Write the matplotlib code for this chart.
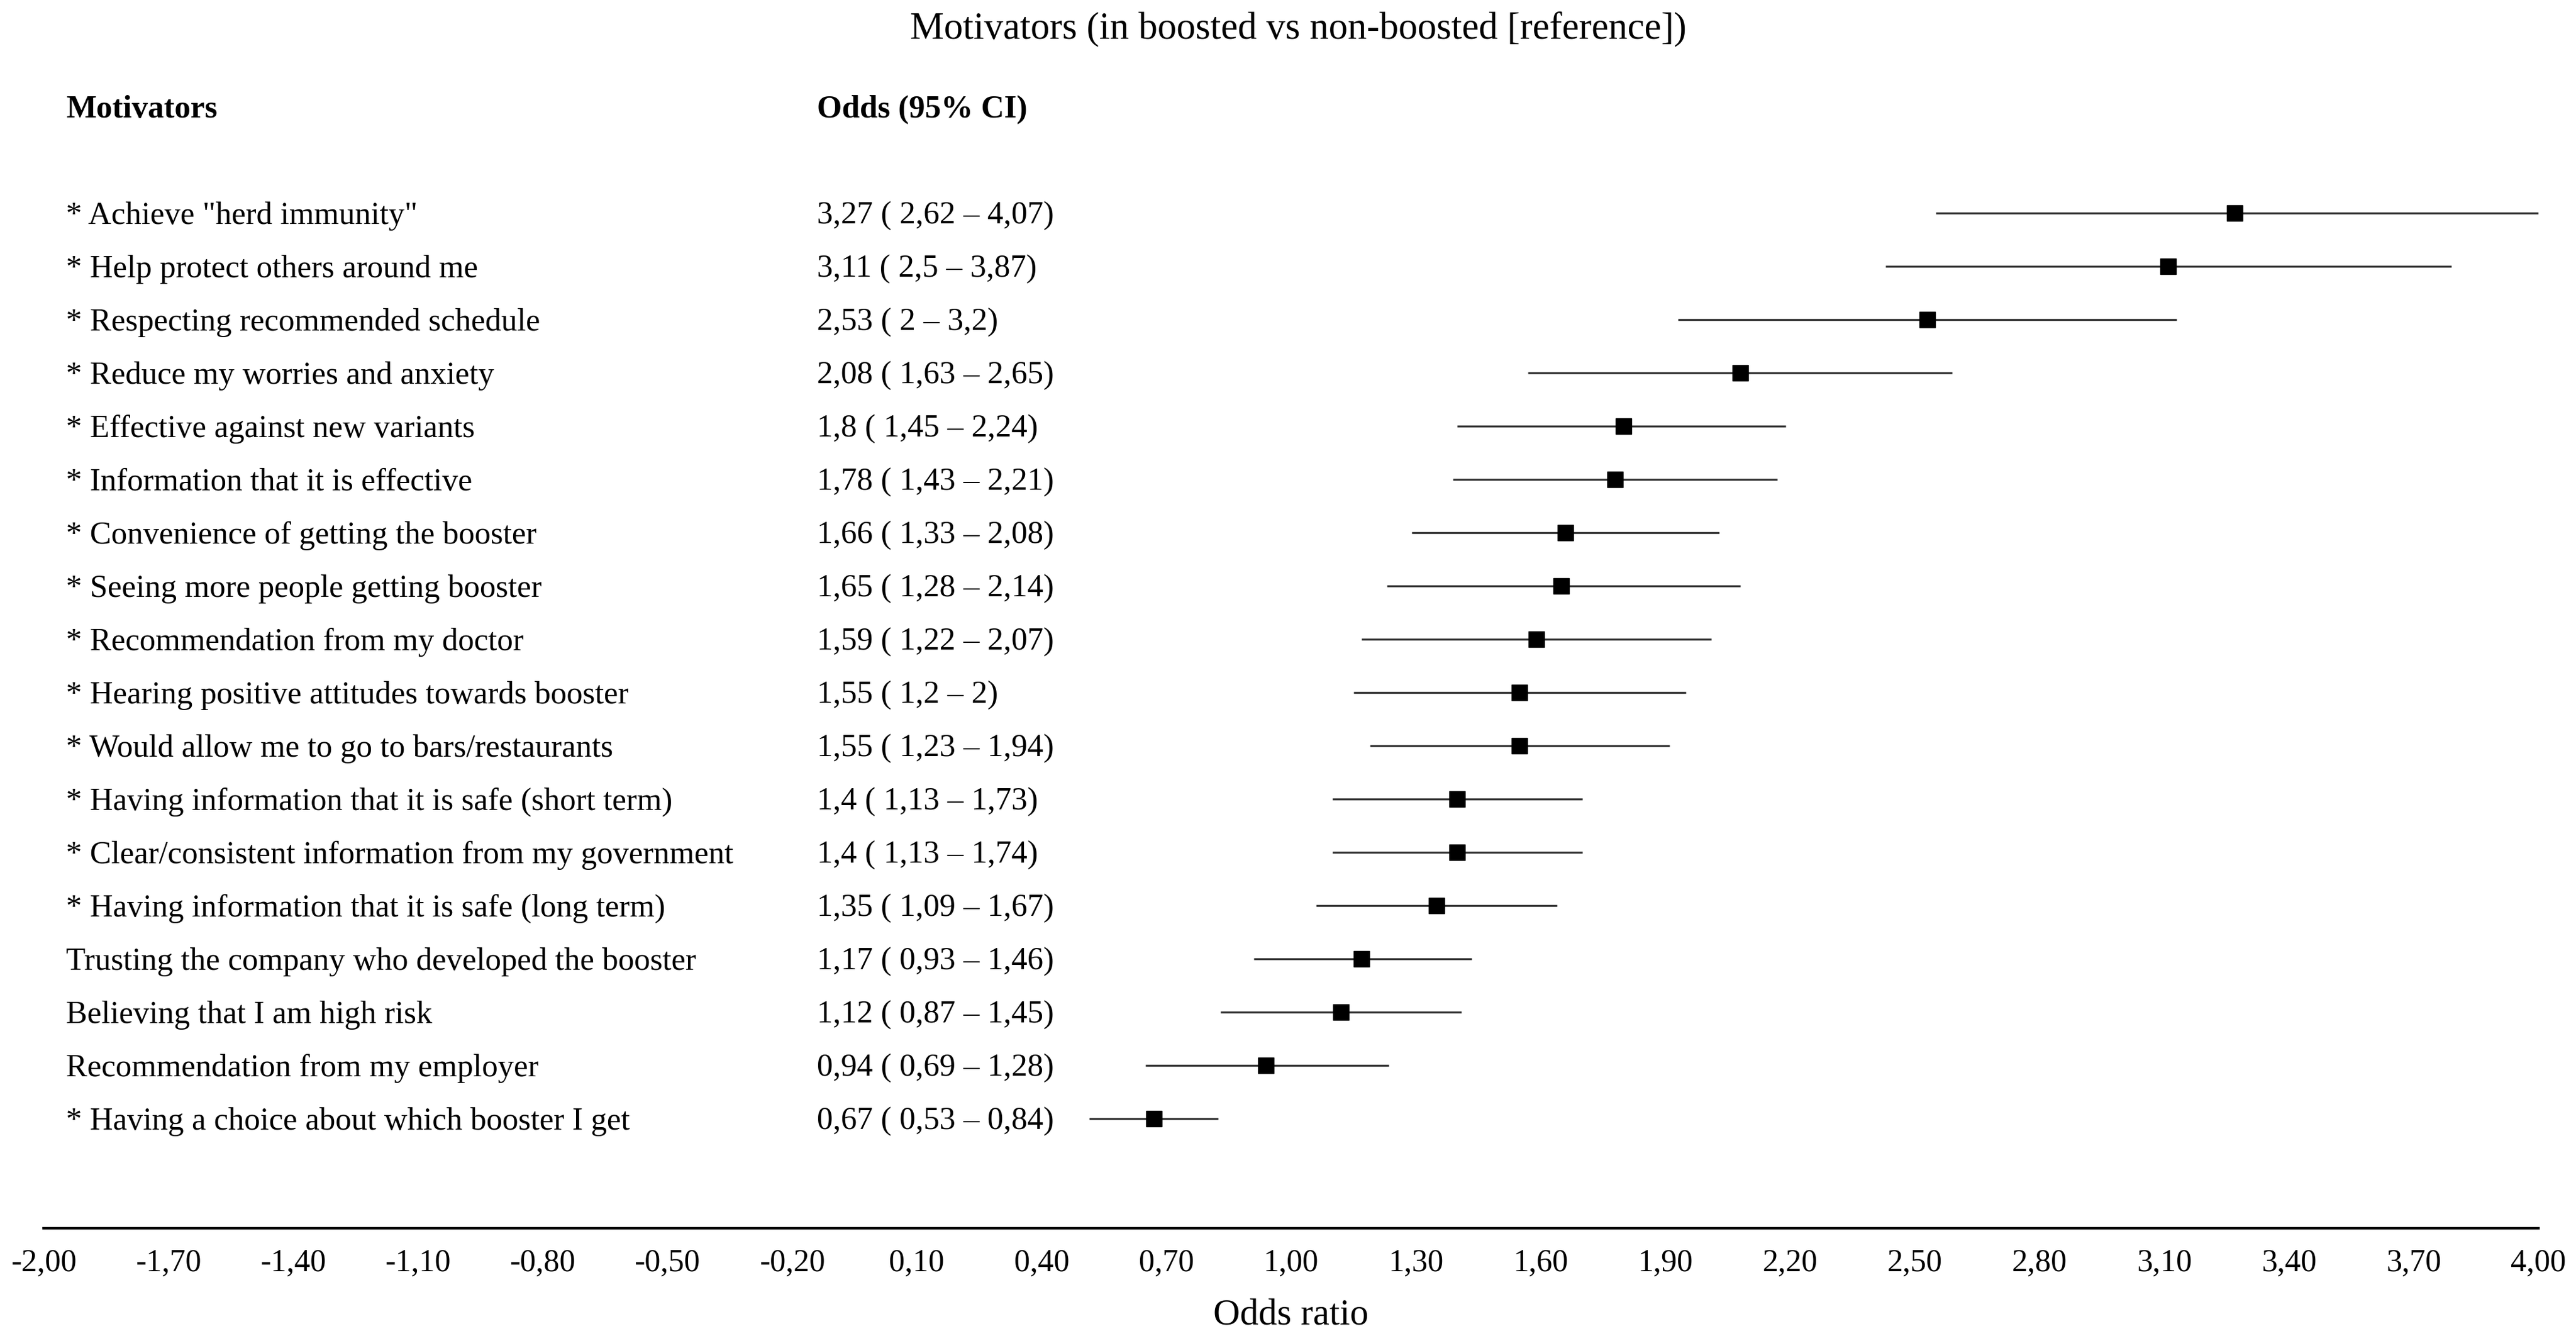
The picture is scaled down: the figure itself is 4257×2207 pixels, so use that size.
import numpy as np
import matplotlib.pyplot as plt
import matplotlib.transforms as mtransforms

# Forest plot: motivators, boosted vs non-boosted (reference)

plt.rcParams['font.family'] = ['Liberation Serif', 'DejaVu Serif']

labels = [
    '* Achieve "herd immunity"',
    '* Help protect others around me',
    '* Respecting recommended schedule',
    '* Reduce my worries and anxiety',
    '* Effective against new variants',
    '* Information that it is effective',
    '* Convenience of getting the booster',
    '* Seeing more people getting booster',
    '* Recommendation from my doctor',
    '* Hearing positive attitudes towards booster',
    '* Would allow me to go to bars/restaurants',
    '* Having information that it is safe (short term)',
    '* Clear/consistent information from my government',
    '* Having information that it is safe (long term)',
    'Trusting the company who developed the booster',
    'Believing that I am high risk',
    'Recommendation from my employer',
    '* Having a choice about which booster I get',
]
odds = [3.27, 3.11, 2.53, 2.08, 1.8, 1.78, 1.66, 1.65, 1.59, 1.55, 1.55,
        1.4, 1.4, 1.35, 1.17, 1.12, 0.94, 0.67]
ci_lo = [2.62, 2.5, 2, 1.63, 1.45, 1.43, 1.33, 1.28, 1.22, 1.2, 1.23,
         1.13, 1.13, 1.09, 0.93, 0.87, 0.69, 0.53]
ci_hi = [4.07, 3.87, 3.2, 2.65, 2.24, 2.21, 2.08, 2.14, 2.07, 2, 1.94,
         1.73, 1.74, 1.67, 1.46, 1.45, 1.28, 0.84]

# whisker ends as drawn in the picture (slightly left of the printed CI)
line_lo = [2.55, 2.43, 1.93, 1.57, 1.40, 1.39, 1.29, 1.23, 1.17, 1.15, 1.19,
           1.10, 1.10, 1.06, 0.91, 0.83, 0.65, 0.515]
line_hi = [4.07, 3.79, 3.13, 2.59, 2.19, 2.17, 2.03, 2.08, 2.01, 1.95, 1.91,
           1.70, 1.70, 1.64, 1.435, 1.41, 1.235, 0.825]

tick_vals = np.round(np.arange(-2.0, 4.01, 0.3), 2)
tick_labels = [f"{v:.2f}".replace('.', ',') for v in tick_vals]


def fmt(v):
    return ('%g' % v).replace('.', ',')


odds_text = [f"{fmt(o)} ( {fmt(l)} \u2013 {fmt(h)})" for o, l, h in zip(odds, ci_lo, ci_hi)]

W, H = 4257, 2207
fig = plt.figure(figsize=(W / 100, H / 100), dpi=100)
ax = fig.add_axes([72 / W, 1 - 2029 / H, (4195 - 72) / W, 2029 / H])

n = len(labels)
y = np.arange(n)
ax.set_xlim(-2, 4)
ax.set_ylim(-4.0 + 2029 / 88, -4.0)

ax.hlines(y, line_lo, line_hi, color='#333333', lw=2.4)
ax.plot(odds, y, 's', ms=18.5, color='black', zorder=3)

for s in ['top', 'left', 'right']:
    ax.spines[s].set_visible(False)
ax.spines['bottom'].set_linewidth(3)
ax.set_yticks([])
ax.set_xticks(tick_vals)
ax.set_xticklabels(tick_labels)
ax.tick_params(axis='x', length=0, pad=24, labelsize=37.5)

trans = mtransforms.blended_transform_factory(fig.transFigure, ax.transData)
for yi, lab, ot in zip(y, labels, odds_text):
    ax.text(109 / W, yi + 0.2, lab, transform=trans, va='baseline', fontsize=38)
    ax.text(1350 / W, yi + 0.2, ot, transform=trans, va='baseline', fontsize=38)

ax.text(109 / W, -1.8, 'Motivators', transform=trans, va='baseline',
        fontsize=38.2, fontweight='bold')
ax.text(1350 / W, -1.8, 'Odds (95% CI)', transform=trans, va='baseline',
        fontsize=38.2, fontweight='bold')

fig.text(2145 / W, 1 - 63 / H, 'Motivators (in boosted vs non-boosted [reference])',
         ha='center', va='baseline', fontsize=45.3)
fig.text(2133 / W, 1 - 2188 / H, 'Odds ratio', ha='center', va='baseline', fontsize=44)

fig.savefig('out.png', dpi=100)
